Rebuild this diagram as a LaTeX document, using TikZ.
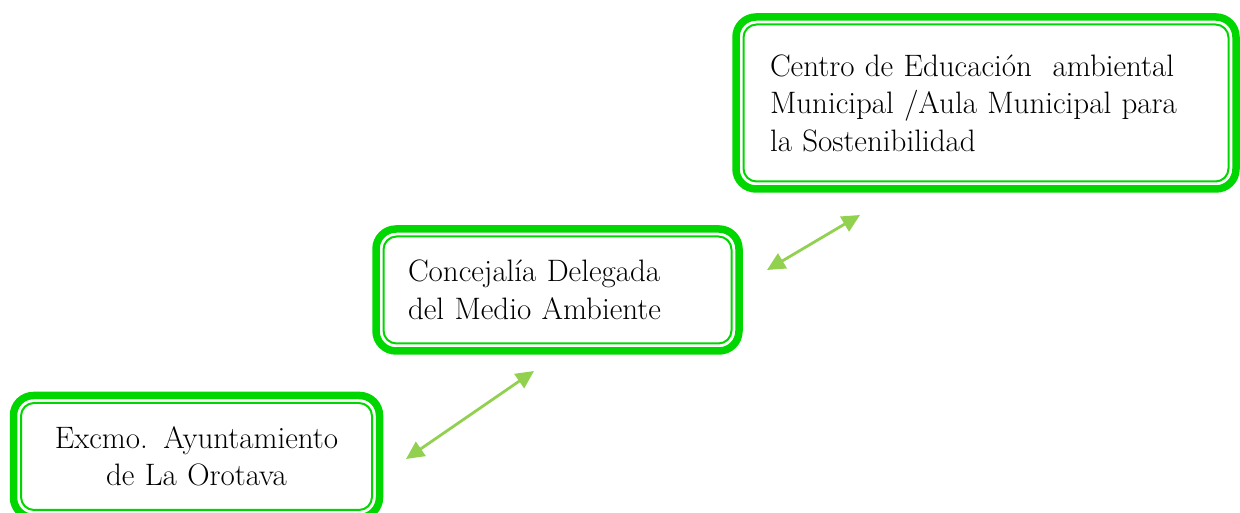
\documentclass[tikz,border=0pt]{standalone}
\usetikzlibrary{arrows.meta}
\definecolor{boxgreen}{RGB}{0,214,0}
\definecolor{arrowgreen}{RGB}{146,208,80}
\begin{document}
\begin{tikzpicture}[x=1pt,y=1pt]
   \useasboundingbox (0,0) rectangle (1240,513);
   \fontsize{31}{37.5}\selectfont
   \tikzstyle{frame}=[draw=boxgreen, line width=7.5pt, rounded corners=20pt, outer sep=0pt, minimum height=122pt, inner xsep=32pt]
   \tikzstyle{inner}=[draw=boxgreen, line width=2pt, rounded corners=13pt]
   \tikzstyle{link}=[draw=arrowgreen, line width=2.8pt, {Triangle[length=18pt,width=17pt]}-{Triangle[length=18pt,width=17pt]}]
   \node[frame, text width=302pt, align=center] (ayto) at (196.5,56.5) {Excmo. Ayuntamiento\\de La Orotava};
   \node[frame, text width=299pt, align=left] (conc) at (557.5,223) {Concejalía Delegada\\del Medio Ambiente};
   \node[frame, minimum height=172pt, inner xsep=34pt, text width=432pt, align=left] (centro) at (986,410)
      {Centro de Educación\ \ ambiental\\Municipal /Aula Municipal para\\la Sostenibilidad};
   \foreach \b in {ayto,conc,centro} {
        \draw[inner] ([shift={(7.5,7.5)}]\b.south west) rectangle ([shift={(-7.5,-7.5)}]\b.north east);
   }
    \coordinate (a1) at (406,54);
    \coordinate (a2) at (534,142);
    \coordinate (b1) at (767,243);
    \coordinate (b2) at (860,298);
    \draw[link] (a1) -- (a2);
    \draw[link] (b1) -- (b2);
\end{tikzpicture}
\end{document}
